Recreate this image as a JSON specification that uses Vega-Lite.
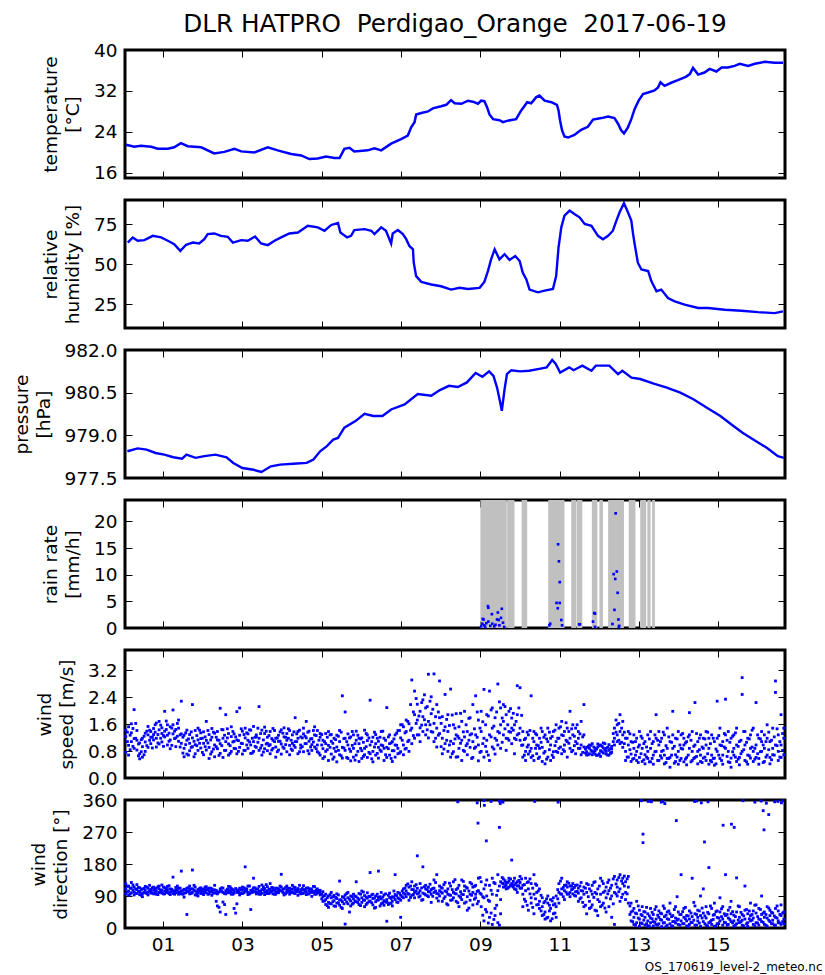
{
"$schema": "https://vega.github.io/schema/vega-lite/v6.json",
"background": "white",
"padding": {"left": 10, "top": 10, "right": 0, "bottom": 0},
"spacing": 22,
"bounds": "flush",
"config": {
 "font": "DejaVu Sans",
 "view": {"stroke": "black", "strokeWidth": 3},
 "axis": {"grid": false, "domain": false, "tickColor": "black", "tickSize": -7, "tickWidth": 1, "labelFontSize": 18.5, "labelColor": "black", "labelFont": "DejaVu Sans", "titleFont": "DejaVu Sans", "titleFontSize": 18.5, "titleFontWeight": "normal", "titleColor": "black", "labelFlush": false, "labelOverlap": false, "titleLineHeight": 22},
 "axisLeft": {"labelPadding": 15, "titlePadding": 11},
 "axisBottom": {"labelPadding": 14}
},
"datasets": {
"temp": [
{"h":0.065,"v":21.5},{"h":0.275,"v":21.1},{"h":0.44,"v":21.3},{"h":0.70,"v":21.1},{"h":0.865,"v":20.7},{"h":1.12,"v":20.7},{"h":1.28,"v":21.0},{"h":1.45,"v":21.8},{"h":1.62,"v":21.2},{"h":1.96,"v":21.0},{"h":2.29,"v":19.8},{"h":2.545,"v":20.1},{"h":2.80,"v":20.7},{"h":2.97,"v":20.2},{"h":3.30,"v":20.0},{"h":3.64,"v":21.0},{"h":3.89,"v":20.4},{"h":4.23,"v":19.7},{"h":4.48,"v":19.4},{"h":4.69,"v":18.7},{"h":4.90,"v":18.8},{"h":5.11,"v":19.2},{"h":5.32,"v":18.9},{"h":5.45,"v":18.9},{"h":5.57,"v":20.7},{"h":5.70,"v":20.9},{"h":5.82,"v":20.2},{"h":6.16,"v":20.4},{"h":6.33,"v":20.8},{"h":6.50,"v":20.4},{"h":6.75,"v":21.7},{"h":7.00,"v":22.6},{"h":7.17,"v":23.3},{"h":7.255,"v":24.9},{"h":7.34,"v":25.9},{"h":7.38,"v":27.4},{"h":7.51,"v":27.7},{"h":7.68,"v":28.0},{"h":7.80,"v":28.6},{"h":8.01,"v":29.0},{"h":8.14,"v":29.3},{"h":8.26,"v":30.2},{"h":8.35,"v":29.6},{"h":8.52,"v":29.5},{"h":8.685,"v":30.1},{"h":8.81,"v":29.9},{"h":8.94,"v":29.5},{"h":9.02,"v":30.1},{"h":9.10,"v":30.0},{"h":9.17,"v":28.8},{"h":9.23,"v":27.4},{"h":9.32,"v":26.5},{"h":9.48,"v":26.3},{"h":9.57,"v":25.9},{"h":9.69,"v":26.2},{"h":9.90,"v":26.5},{"h":10.03,"v":28.2},{"h":10.18,"v":29.8},{"h":10.28,"v":29.6},{"h":10.41,"v":30.8},{"h":10.49,"v":31.1},{"h":10.62,"v":30.1},{"h":10.79,"v":29.8},{"h":10.93,"v":29.3},{"h":10.97,"v":28.2},{"h":11.01,"v":26.2},{"h":11.06,"v":24.3},{"h":11.12,"v":23.1},{"h":11.21,"v":22.9},{"h":11.37,"v":23.4},{"h":11.54,"v":24.4},{"h":11.71,"v":25.0},{"h":11.84,"v":26.4},{"h":12.05,"v":26.7},{"h":12.22,"v":27.0},{"h":12.38,"v":26.7},{"h":12.47,"v":25.6},{"h":12.55,"v":24.3},{"h":12.62,"v":23.7},{"h":12.72,"v":24.9},{"h":12.805,"v":26.5},{"h":12.89,"v":28.5},{"h":12.99,"v":30.1},{"h":13.10,"v":31.4},{"h":13.23,"v":31.7},{"h":13.39,"v":32.1},{"h":13.48,"v":32.7},{"h":13.54,"v":33.7},{"h":13.645,"v":33.0},{"h":13.81,"v":33.6},{"h":13.98,"v":34.1},{"h":14.19,"v":34.8},{"h":14.28,"v":35.3},{"h":14.36,"v":36.5},{"h":14.49,"v":35.2},{"h":14.65,"v":35.6},{"h":14.78,"v":36.3},{"h":14.95,"v":35.8},{"h":15.08,"v":36.6},{"h":15.24,"v":36.6},{"h":15.41,"v":36.9},{"h":15.54,"v":37.3},{"h":15.75,"v":36.9},{"h":15.92,"v":37.3},{"h":16.17,"v":37.7},{"h":16.42,"v":37.5},{"h":16.63,"v":37.5}
],
"rh": [
{"h":0.11,"v":63.4},{"h":0.235,"v":66.6},{"h":0.36,"v":64.5},{"h":0.53,"v":64.9},{"h":0.74,"v":67.6},{"h":0.95,"v":66.6},{"h":1.12,"v":64.5},{"h":1.28,"v":62.4},{"h":1.435,"v":58.2},{"h":1.58,"v":62.0},{"h":1.75,"v":63.4},{"h":1.91,"v":62.8},{"h":2.04,"v":65.5},{"h":2.125,"v":68.7},{"h":2.29,"v":69.1},{"h":2.46,"v":67.6},{"h":2.63,"v":67.0},{"h":2.76,"v":63.4},{"h":2.97,"v":64.9},{"h":3.135,"v":64.5},{"h":3.32,"v":67.2},{"h":3.47,"v":62.8},{"h":3.64,"v":61.8},{"h":3.81,"v":64.5},{"h":3.975,"v":66.6},{"h":4.185,"v":69.1},{"h":4.40,"v":69.7},{"h":4.65,"v":73.9},{"h":4.90,"v":72.9},{"h":5.07,"v":70.8},{"h":5.24,"v":74.4},{"h":5.41,"v":75.6},{"h":5.47,"v":69.7},{"h":5.64,"v":66.6},{"h":5.74,"v":67.6},{"h":5.82,"v":71.2},{"h":6.08,"v":71.8},{"h":6.25,"v":70.8},{"h":6.33,"v":68.7},{"h":6.50,"v":72.9},{"h":6.62,"v":70.8},{"h":6.75,"v":62.8},{"h":6.79,"v":69.1},{"h":6.92,"v":71.2},{"h":7.045,"v":68.7},{"h":7.13,"v":65.5},{"h":7.21,"v":61.3},{"h":7.30,"v":59.2},{"h":7.32,"v":50.8},{"h":7.38,"v":42.4},{"h":7.51,"v":38.8},{"h":7.76,"v":37.2},{"h":8.01,"v":36.1},{"h":8.26,"v":34.0},{"h":8.475,"v":35.1},{"h":8.685,"v":34.4},{"h":8.98,"v":35.1},{"h":9.10,"v":38.8},{"h":9.19,"v":45.6},{"h":9.27,"v":52.9},{"h":9.36,"v":59.2},{"h":9.48,"v":52.9},{"h":9.61,"v":56.1},{"h":9.735,"v":52.5},{"h":9.88,"v":55.0},{"h":9.99,"v":51.9},{"h":10.07,"v":44.5},{"h":10.16,"v":40.3},{"h":10.24,"v":34.0},{"h":10.45,"v":32.3},{"h":10.62,"v":33.4},{"h":10.83,"v":34.4},{"h":10.91,"v":42.4},{"h":10.97,"v":60.3},{"h":11.04,"v":72.9},{"h":11.12,"v":80.2},{"h":11.25,"v":83.4},{"h":11.37,"v":81.3},{"h":11.50,"v":79.2},{"h":11.63,"v":75.0},{"h":11.80,"v":73.9},{"h":11.965,"v":67.6},{"h":12.09,"v":65.5},{"h":12.22,"v":67.6},{"h":12.34,"v":70.8},{"h":12.43,"v":77.1},{"h":12.51,"v":82.3},{"h":12.62,"v":88.0},{"h":12.72,"v":82.3},{"h":12.805,"v":77.1},{"h":12.85,"v":68.7},{"h":12.89,"v":62.4},{"h":12.97,"v":50.8},{"h":13.06,"v":46.6},{"h":13.23,"v":45.6},{"h":13.31,"v":39.3},{"h":13.44,"v":33.0},{"h":13.56,"v":34.0},{"h":13.73,"v":28.7},{"h":13.90,"v":26.7},{"h":14.15,"v":24.6},{"h":14.49,"v":22.5},{"h":14.74,"v":22.5},{"h":15.16,"v":21.4},{"h":15.58,"v":20.8},{"h":16.00,"v":19.9},{"h":16.42,"v":19.3},{"h":16.63,"v":20.4}
],
"pres": [
{"h":0.10,"v":978.44},{"h":0.36,"v":978.54},{"h":0.585,"v":978.50},{"h":0.81,"v":978.38},{"h":1.03,"v":978.32},{"h":1.26,"v":978.23},{"h":1.48,"v":978.18},{"h":1.59,"v":978.32},{"h":1.82,"v":978.21},{"h":2.04,"v":978.27},{"h":2.32,"v":978.32},{"h":2.60,"v":978.23},{"h":2.77,"v":978.03},{"h":3.0,"v":977.85},{"h":3.28,"v":977.79},{"h":3.48,"v":977.71},{"h":3.72,"v":977.91},{"h":3.95,"v":977.97},{"h":4.28,"v":978.0},{"h":4.62,"v":978.03},{"h":4.79,"v":978.15},{"h":4.96,"v":978.44},{"h":5.13,"v":978.62},{"h":5.29,"v":978.85},{"h":5.41,"v":978.91},{"h":5.57,"v":979.27},{"h":5.85,"v":979.50},{"h":6.08,"v":979.76},{"h":6.30,"v":979.68},{"h":6.53,"v":979.68},{"h":6.75,"v":979.91},{"h":7.09,"v":980.09},{"h":7.42,"v":980.45},{"h":7.76,"v":980.39},{"h":7.98,"v":980.59},{"h":8.21,"v":980.74},{"h":8.43,"v":980.70},{"h":8.66,"v":980.86},{"h":8.88,"v":981.19},{"h":9.05,"v":981.06},{"h":9.22,"v":981.25},{"h":9.33,"v":981.09},{"h":9.42,"v":980.68},{"h":9.50,"v":980.15},{"h":9.54,"v":979.86},{"h":9.61,"v":980.62},{"h":9.67,"v":981.15},{"h":9.78,"v":981.29},{"h":10.0,"v":981.25},{"h":10.23,"v":981.27},{"h":10.45,"v":981.33},{"h":10.67,"v":981.39},{"h":10.81,"v":981.65},{"h":10.90,"v":981.51},{"h":11.01,"v":981.21},{"h":11.24,"v":981.39},{"h":11.35,"v":981.29},{"h":11.57,"v":981.45},{"h":11.80,"v":981.27},{"h":11.91,"v":981.45},{"h":12.25,"v":981.45},{"h":12.47,"v":981.15},{"h":12.58,"v":981.27},{"h":12.81,"v":981.03},{"h":13.03,"v":980.98},{"h":13.37,"v":980.82},{"h":13.70,"v":980.68},{"h":14.04,"v":980.50},{"h":14.37,"v":980.27},{"h":14.71,"v":979.97},{"h":15.05,"v":979.68},{"h":15.38,"v":979.33},{"h":15.61,"v":979.09},{"h":15.94,"v":978.80},{"h":16.22,"v":978.56},{"h":16.50,"v":978.27},{"h":16.65,"v":978.21}
],
"rainbars": [
{"a":9.0,"b":9.665},{"a":9.675,"b":9.86},{"a":10.04,"b":10.18},{"a":10.71,"b":11.12},{"a":11.29,"b":11.42},{"a":11.43,"b":11.57},{"a":11.81,"b":11.95},{"a":12.0,"b":12.09},{"a":12.22,"b":12.62},{"a":12.74,"b":12.91},{"a":13.03,"b":13.18},{"a":13.21,"b":13.29},{"a":13.33,"b":13.40}
],
"rain": [
{"h":9.02,"r":0.3},{"h":9.05,"r":0.8},{"h":9.06,"r":1.7},{"h":9.08,"r":1.6},{"h":9.1,"r":0.5},{"h":9.12,"r":0.2},{"h":9.15,"r":0.9},{"h":9.19,"r":4.1},{"h":9.2,"r":3.8},{"h":9.2,"r":1.2},{"h":9.25,"r":0.4},{"h":9.29,"r":2.6},{"h":9.3,"r":0.8},{"h":9.35,"r":0.3},{"h":9.42,"r":1.6},{"h":9.44,"r":2.9},{"h":9.46,"r":1.5},{"h":9.48,"r":0.5},{"h":9.52,"r":1.9},{"h":9.54,"r":3.6},{"h":9.57,"r":1.0},{"h":9.6,"r":0.2},{"h":9.38,"r":0.6},
{"h":10.74,"r":0.5},{"h":10.76,"r":0.8},{"h":10.92,"r":4.7},{"h":10.95,"r":3.7},{"h":10.96,"r":15.7},{"h":10.98,"r":12.5},{"h":11.0,"r":8.6},{"h":11.0,"r":4.7},{"h":11.04,"r":1.5},{"h":11.06,"r":0.5},
{"h":11.49,"r":0.7},{"h":11.51,"r":0.7},
{"h":11.84,"r":1.2},{"h":11.87,"r":2.8},{"h":11.89,"r":2.7},{"h":11.89,"r":0.2},
{"h":12.33,"r":0.75},{"h":12.36,"r":10.1},{"h":12.38,"r":3.4},{"h":12.40,"r":9.2},{"h":12.41,"r":21.5},{"h":12.44,"r":10.6},{"h":12.46,"r":6.6},{"h":12.48,"r":1.6},{"h":12.49,"r":0.2},{"h":12.50,"r":0.4}
],
"wind": [
{"h":0.06,"s1":1.23,"s2":0.76,"s3":1.42,"d1":110,"d2":96,"d3":124},
{"h":0.13,"s1":0.97,"s2":1.52,"s3":0.68,"d1":104,"d2":118,"d3":92},
{"h":0.20,"s1":1.34,"s2":1.08,"s3":1.61,"d1":99,"d2":112,"d3":128},
{"h":0.27,"s1":2.03,"s2":1.17,"s3":0.88,"d1":115,"d2":101,"d3":93},
{"h":0.34,"s1":1.41,"s2":0.83,"s3":1.12,"d1":108,"d2":122,"d3":97},
{"h":0.41,"s1":0.72,"s2":1.04,"s3":0.57,"d1":102,"d2":94,"d3":113},
{"h":0.48,"s1":0.93,"s2":0.62,"s3":1.18,"d1":97,"d2":110,"d3":88},
{"h":0.55,"s1":1.07,"s2":0.79,"s3":1.33,"d1":106,"d2":99,"d3":117},
{"h":0.62,"s1":1.28,"s2":0.91,"s3":1.53,"d1":101,"d2":93,"d3":112},
{"h":0.69,"s1":1.02,"s2":1.38,"s3":1.21,"d1":109,"d2":98,"d3":104},
{"h":0.76,"s1":1.47,"s2":1.13,"s3":1.29,"d1":96,"d2":107,"d3":115},
{"h":0.83,"s1":1.18,"s2":1.63,"s3":0.92,"d1":103,"d2":112,"d3":95},
{"h":0.90,"s1":1.43,"s2":1.01,"s3":1.68,"d1":110,"d2":100,"d3":118},
{"h":0.97,"s1":1.32,"s2":1.49,"s3":1.07,"d1":98,"d2":106,"d3":121},
{"h":1.04,"s1":1.98,"s2":1.22,"s3":1.39,"d1":104,"d2":96,"d3":113},
{"h":1.11,"s1":1.58,"s2":0.98,"s3":1.27,"d1":108,"d2":117,"d3":100},
{"h":1.18,"s1":1.13,"s2":1.52,"s3":0.87,"d1":101,"d2":110,"d3":94},
{"h":1.25,"s1":2.02,"s2":1.31,"s3":1.58,"d1":143,"d2":105,"d3":97},
{"h":1.32,"s1":1.19,"s2":0.93,"s3":1.44,"d1":106,"d2":99,"d3":114},
{"h":1.39,"s1":1.48,"s2":1.09,"s3":1.72,"d1":112,"d2":101,"d3":95},
{"h":1.46,"s1":2.28,"s2":1.03,"s3":1.31,"d1":160,"d2":104,"d3":96},
{"h":1.53,"s1":0.88,"s2":1.27,"s3":0.63,"d1":98,"d2":109,"d3":87},
{"h":1.60,"s1":1.12,"s2":0.71,"s3":1.42,"d1":38,"d2":103,"d3":112},
{"h":1.67,"s1":1.29,"s2":1.03,"s3":0.81,"d1":106,"d2":96,"d3":118},
{"h":1.74,"s1":2.18,"s2":1.19,"s3":0.93,"d1":163,"d2":100,"d3":110},
{"h":1.81,"s1":0.99,"s2":1.41,"s3":0.72,"d1":104,"d2":93,"d3":115},
{"h":1.88,"s1":0.82,"s2":1.13,"s3":1.48,"d1":99,"d2":108,"d3":90},
{"h":1.95,"s1":1.17,"s2":0.89,"s3":1.34,"d1":105,"d2":97,"d3":113},
{"h":2.02,"s1":1.03,"s2":1.37,"s3":0.69,"d1":101,"d2":110,"d3":94},
{"h":2.09,"s1":1.68,"s2":1.12,"s3":0.83,"d1":108,"d2":99,"d3":116},
{"h":2.16,"s1":0.91,"s2":1.29,"s3":0.58,"d1":96,"d2":104,"d3":112},
{"h":2.23,"s1":1.21,"s2":0.78,"s3":1.47,"d1":103,"d2":92,"d3":110},
{"h":2.30,"s1":0.98,"s2":1.33,"s3":0.63,"d1":98,"d2":107,"d3":120},
{"h":2.37,"s1":1.38,"s2":0.87,"s3":1.13,"d1":62,"d2":101,"d3":96},
{"h":2.44,"s1":2.07,"s2":1.02,"s3":0.73,"d1":45,"d2":104,"d3":110},
{"h":2.51,"s1":1.18,"s2":0.61,"s3":1.43,"d1":100,"d2":73,"d3":112},
{"h":2.58,"s1":1.88,"s2":1.08,"s3":0.82,"d1":96,"d2":38,"d3":105},
{"h":2.65,"s1":1.01,"s2":1.32,"s3":0.68,"d1":108,"d2":99,"d3":117},
{"h":2.72,"s1":0.79,"s2":1.23,"s3":1.52,"d1":102,"d2":95,"d3":111},
{"h":2.79,"s1":1.31,"s2":0.88,"s3":1.09,"d1":55,"d2":104,"d3":98},
{"h":2.86,"s1":1.97,"s2":1.13,"s3":0.72,"d1":68,"d2":107,"d3":100},
{"h":2.93,"s1":2.08,"s2":1.27,"s3":0.91,"d1":99,"d2":112,"d3":93},
{"h":3.00,"s1":1.02,"s2":1.39,"s3":0.71,"d1":106,"d2":97,"d3":115},
{"h":3.07,"s1":1.19,"s2":0.82,"s3":1.48,"d1":172,"d2":103,"d3":110},
{"h":3.14,"s1":0.88,"s2":1.31,"s3":1.12,"d1":100,"d2":94,"d3":118},
{"h":3.21,"s1":1.42,"s2":0.98,"s3":0.73,"d1":52,"d2":106,"d3":99},
{"h":3.28,"s1":1.08,"s2":1.53,"s3":0.79,"d1":140,"d2":104,"d3":113},
{"h":3.35,"s1":1.28,"s2":0.91,"s3":1.22,"d1":109,"d2":100,"d3":96},
{"h":3.42,"s1":2.12,"s2":1.18,"s3":0.82,"d1":103,"d2":117,"d3":95},
{"h":3.49,"s1":0.97,"s2":1.42,"s3":0.68,"d1":98,"d2":108,"d3":121},
{"h":3.56,"s1":1.32,"s2":0.87,"s3":1.51,"d1":111,"d2":102,"d3":94},
{"h":3.63,"s1":0.81,"s2":1.21,"s3":1.03,"d1":105,"d2":97,"d3":116},
{"h":3.70,"s1":1.38,"s2":0.99,"s3":0.72,"d1":100,"d2":109,"d3":125},
{"h":3.77,"s1":1.12,"s2":1.47,"s3":0.88,"d1":107,"d2":96,"d3":113},
{"h":3.84,"s1":0.92,"s2":1.18,"s3":0.62,"d1":102,"d2":112,"d3":95},
{"h":3.91,"s1":1.27,"s2":0.83,"s3":1.09,"d1":110,"d2":99,"d3":106},
{"h":3.98,"s1":1.01,"s2":1.43,"s3":0.71,"d1":151,"d2":104,"d3":115},
{"h":4.05,"s1":1.22,"s2":0.88,"s3":1.49,"d1":98,"d2":110,"d3":93},
{"h":4.12,"s1":0.78,"s2":1.12,"s3":1.32,"d1":106,"d2":100,"d3":118},
{"h":4.19,"s1":1.41,"s2":0.97,"s3":0.69,"d1":103,"d2":95,"d3":112},
{"h":4.26,"s1":1.03,"s2":1.28,"s3":0.82,"d1":109,"d2":101,"d3":120},
{"h":4.33,"s1":1.79,"s2":1.08,"s3":0.91,"d1":97,"d2":106,"d3":114},
{"h":4.40,"s1":1.18,"s2":0.72,"s3":1.38,"d1":104,"d2":92,"d3":111},
{"h":4.47,"s1":0.89,"s2":1.22,"s3":0.98,"d1":100,"d2":108,"d3":96},
{"h":4.54,"s1":1.31,"s2":0.78,"s3":1.48,"d1":107,"d2":98,"d3":119},
{"h":4.61,"s1":1.68,"s2":1.02,"s3":1.19,"d1":102,"d2":112,"d3":94},
{"h":4.68,"s1":1.09,"s2":1.39,"s3":0.72,"d1":96,"d2":105,"d3":110},
{"h":4.75,"s1":0.82,"s2":1.17,"s3":0.99,"d1":108,"d2":100,"d3":89},
{"h":4.82,"s1":1.28,"s2":0.92,"s3":1.52,"d1":103,"d2":95,"d3":116},
{"h":4.89,"s1":0.98,"s2":1.41,"s3":0.78,"d1":99,"d2":110,"d3":104},
{"h":4.96,"s1":1.21,"s2":0.68,"s3":1.32,"d1":106,"d2":93,"d3":100},
{"h":5.03,"s1":0.87,"s2":1.12,"s3":0.58,"d1":88,"d2":75,"d3":102},
{"h":5.10,"s1":1.32,"s2":0.79,"s3":1.02,"d1":80,"d2":66,"d3":95},
{"h":5.17,"s1":0.97,"s2":1.38,"s3":0.52,"d1":72,"d2":90,"d3":58},
{"h":5.24,"s1":0.71,"s2":1.09,"s3":1.29,"d1":85,"d2":68,"d3":100},
{"h":5.31,"s1":1.18,"s2":0.62,"s3":0.88,"d1":77,"d2":92,"d3":62},
{"h":5.38,"s1":0.92,"s2":1.27,"s3":0.48,"d1":83,"d2":70,"d3":96},
{"h":5.45,"s1":1.08,"s2":0.69,"s3":1.41,"d1":132,"d2":79,"d3":64},
{"h":5.52,"s1":2.44,"s2":0.91,"s3":0.59,"d1":74,"d2":88,"d3":55},
{"h":5.59,"s1":1.96,"s2":1.18,"s3":0.82,"d1":11,"d2":80,"d3":93},
{"h":5.66,"s1":0.98,"s2":0.58,"s3":1.31,"d1":68,"d2":85,"d3":100},
{"h":5.73,"s1":0.79,"s2":1.22,"s3":0.51,"d1":76,"d2":62,"d3":90},
{"h":5.80,"s1":1.28,"s2":0.88,"s3":0.62,"d1":82,"d2":95,"d3":70},
{"h":5.87,"s1":0.68,"s2":1.12,"s3":1.39,"d1":130,"d2":74,"d3":88},
{"h":5.94,"s1":1.02,"s2":0.49,"s3":1.18,"d1":66,"d2":80,"d3":97},
{"h":6.01,"s1":1.19,"s2":0.81,"s3":0.58,"d1":85,"d2":72,"d3":104},
{"h":6.08,"s1":0.88,"s2":1.42,"s3":0.69,"d1":78,"d2":91,"d3":60},
{"h":6.15,"s1":1.11,"s2":0.61,"s3":1.28,"d1":70,"d2":84,"d3":99},
{"h":6.22,"s1":2.31,"s2":0.98,"s3":0.72,"d1":156,"d2":76,"d3":88},
{"h":6.29,"s1":0.79,"s2":1.21,"s3":0.48,"d1":83,"d2":65,"d3":95},
{"h":6.36,"s1":1.29,"s2":0.68,"s3":1.02,"d1":74,"d2":90,"d3":58},
{"h":6.43,"s1":0.59,"s2":1.09,"s3":0.91,"d1":160,"d2":79,"d3":86},
{"h":6.50,"s1":0.98,"s2":0.79,"s3":1.38,"d1":68,"d2":82,"d3":100},
{"h":6.57,"s1":1.18,"s2":0.52,"s3":0.88,"d1":77,"d2":93,"d3":64},
{"h":6.64,"s1":2.09,"s2":0.91,"s3":0.61,"d1":19,"d2":80,"d3":72},
{"h":6.71,"s1":1.02,"s2":1.28,"s3":0.68,"d1":86,"d2":70,"d3":98},
{"h":6.78,"s1":0.81,"s2":1.08,"s3":0.49,"d1":75,"d2":88,"d3":62},
{"h":6.85,"s1":1.28,"s2":0.62,"s3":0.98,"d1":150,"d2":80,"d3":94},
{"h":6.92,"s1":0.88,"s2":1.41,"s3":0.72,"d1":84,"d2":72,"d3":100},
{"h":6.99,"s1":1.19,"s2":0.78,"s3":1.58,"d1":30,"d2":92,"d3":78},
{"h":7.06,"s1":0.98,"s2":1.52,"s3":0.69,"d1":98,"d2":110,"d3":85},
{"h":7.13,"s1":1.38,"s2":0.88,"s3":1.72,"d1":104,"d2":88,"d3":120},
{"h":7.20,"s1":1.12,"s2":1.61,"s3":0.79,"d1":95,"d2":115,"d3":78},
{"h":7.27,"s1":2.91,"s2":1.48,"s3":1.02,"d1":108,"d2":92,"d3":130},
{"h":7.34,"s1":2.58,"s2":1.88,"s3":1.18,"d1":100,"d2":118,"d3":85},
{"h":7.41,"s1":1.72,"s2":1.28,"s3":2.19,"d1":203,"d2":96,"d3":112},
{"h":7.48,"s1":1.49,"s2":1.98,"s3":1.08,"d1":90,"d2":105,"d3":125},
{"h":7.55,"s1":1.82,"s2":1.38,"s3":2.32,"d1":172,"d2":98,"d3":80},
{"h":7.62,"s1":1.28,"s2":2.08,"s3":1.58,"d1":110,"d2":93,"d3":120},
{"h":7.69,"s1":3.08,"s2":1.68,"s3":1.19,"d1":102,"d2":88,"d3":115},
{"h":7.76,"s1":1.91,"s2":1.38,"s3":2.41,"d1":95,"d2":108,"d3":72},
{"h":7.83,"s1":3.09,"s2":1.62,"s3":1.08,"d1":112,"d2":100,"d3":135},
{"h":7.90,"s1":1.48,"s2":2.18,"s3":0.92,"d1":150,"d2":97,"d3":84},
{"h":7.97,"s1":2.88,"s2":1.32,"s3":1.79,"d1":105,"d2":90,"d3":118},
{"h":8.04,"s1":1.18,"s2":1.82,"s3":0.72,"d1":98,"d2":112,"d3":75},
{"h":8.11,"s1":2.48,"s2":1.02,"s3":1.52,"d1":88,"d2":104,"d3":128},
{"h":8.18,"s1":1.38,"s2":0.79,"s3":1.88,"d1":110,"d2":65,"d3":95},
{"h":8.25,"s1":2.64,"s2":1.09,"s3":0.62,"d1":92,"d2":118,"d3":78},
{"h":8.32,"s1":1.02,"s2":1.58,"s3":0.78,"d1":100,"d2":85,"d3":130},
{"h":8.39,"s1":1.28,"s2":0.62,"s3":1.91,"d1":75,"d2":108,"d3":96},
{"h":8.46,"s1":0.88,"s2":1.52,"s3":1.18,"d1":120,"d2":90,"d3":60},
{"h":8.53,"s1":1.68,"s2":1.12,"s3":0.52,"d1":95,"d2":135,"d3":80},
{"h":8.60,"s1":1.22,"s2":1.98,"s3":0.79,"d1":105,"d2":70,"d3":118},
{"h":8.67,"s1":0.69,"s2":1.38,"s3":1.02,"d1":88,"d2":112,"d3":50},
{"h":8.74,"s1":1.79,"s2":0.91,"s3":1.28,"d1":128,"d2":95,"d3":78},
{"h":8.81,"s1":1.08,"s2":2.18,"s3":0.61,"d1":100,"d2":65,"d3":115},
{"h":8.88,"s1":2.44,"s2":1.28,"s3":0.92,"d1":85,"d2":120,"d3":95},
{"h":8.95,"s1":0.98,"s2":1.72,"s3":0.51,"d1":140,"d2":75,"d3":105},
{"h":9.02,"s1":1.38,"s2":0.79,"s3":1.98,"d1":95,"d2":60,"d3":130},
{"h":9.09,"s1":2.63,"s2":1.18,"s3":0.62,"d1":20,"d2":110,"d3":85},
{"h":9.16,"s1":1.12,"s2":1.88,"s3":0.78,"d1":45,"d2":90,"d3":135},
{"h":9.23,"s1":2.58,"s2":1.28,"s3":0.52,"d1":120,"d2":30,"d3":75},
{"h":9.30,"s1":1.48,"s2":0.92,"s3":2.08,"d1":10,"d2":95,"d3":140},
{"h":9.37,"s1":1.18,"s2":1.79,"s3":0.71,"d1":55,"d2":125,"d3":35},
{"h":9.44,"s1":2.79,"s2":1.38,"s3":0.98,"d1":105,"d2":15,"d3":150},
{"h":9.51,"s1":1.58,"s2":2.08,"s3":0.88,"d1":130,"d2":80,"d3":40},
{"h":9.58,"s1":1.28,"s2":1.68,"s3":2.18,"d1":115,"d2":138,"d3":125},
{"h":9.65,"s1":1.88,"s2":1.18,"s3":0.82,"d1":120,"d2":128,"d3":110},
{"h":9.72,"s1":1.38,"s2":1.98,"s3":1.12,"d1":132,"d2":115,"d3":140},
{"h":9.79,"s1":1.78,"s2":1.02,"s3":1.48,"d1":125,"d2":191,"d3":118},
{"h":9.86,"s1":1.18,"s2":1.58,"s3":0.72,"d1":140,"d2":122,"d3":110},
{"h":9.93,"s1":2.74,"s2":1.28,"s3":1.88,"d1":118,"d2":130,"d3":100},
{"h":10.00,"s1":2.68,"s2":1.12,"s3":1.48,"d1":128,"d2":112,"d3":145},
{"h":10.07,"s1":0.98,"s2":1.38,"s3":0.62,"d1":95,"d2":120,"d3":60},
{"h":10.14,"s1":0.79,"s2":1.18,"s3":0.52,"d1":140,"d2":75,"d3":105},
{"h":10.21,"s1":1.28,"s2":0.71,"s3":0.98,"d1":110,"d2":50,"d3":130},
{"h":10.28,"s1":2.44,"s2":0.88,"s3":0.61,"d1":85,"d2":125,"d3":70},
{"h":10.35,"s1":1.08,"s2":0.52,"s3":1.38,"d1":150,"d2":95,"d3":40},
{"h":10.42,"s1":0.72,"s2":0.98,"s3":1.28,"d1":100,"d2":65,"d3":120},
{"h":10.49,"s1":1.18,"s2":0.62,"s3":0.88,"d1":75,"d2":110,"d3":55},
{"h":10.56,"s1":0.91,"s2":1.38,"s3":0.49,"d1":60,"d2":35,"d3":85},
{"h":10.63,"s1":1.28,"s2":0.79,"s3":0.42,"d1":45,"d2":75,"d3":25},
{"h":10.70,"s1":0.62,"s2":1.08,"s3":1.48,"d1":70,"d2":30,"d3":90},
{"h":10.77,"s1":0.98,"s2":0.52,"s3":1.18,"d1":55,"d2":80,"d3":20},
{"h":10.84,"s1":1.38,"s2":0.78,"s3":0.61,"d1":85,"d2":40,"d3":65},
{"h":10.91,"s1":1.58,"s2":1.08,"s3":0.79,"d1":30,"d2":90,"d3":60},
{"h":10.98,"s1":0.88,"s2":1.48,"s3":1.18,"d1":125,"d2":70,"d3":100},
{"h":11.05,"s1":1.28,"s2":0.72,"s3":1.68,"d1":95,"d2":140,"d3":110},
{"h":11.12,"s1":0.98,"s2":1.38,"s3":0.79,"d1":105,"d2":80,"d3":120},
{"h":11.19,"s1":1.48,"s2":1.08,"s3":0.62,"d1":115,"d2":95,"d3":130},
{"h":11.26,"s1":1.98,"s2":1.18,"s3":0.88,"d1":100,"d2":118,"d3":88},
{"h":11.33,"s1":1.28,"s2":0.82,"s3":1.58,"d1":110,"d2":96,"d3":125},
{"h":11.40,"s1":1.08,"s2":1.48,"s3":0.72,"d1":120,"d2":102,"d3":90},
{"h":11.47,"s1":1.38,"s2":0.88,"s3":1.18,"d1":98,"d2":112,"d3":75},
{"h":11.54,"s1":1.68,"s2":0.98,"s3":0.69,"d1":85,"d2":105,"d3":128},
{"h":11.61,"s1":2.18,"s2":0.92,"s3":1.28,"d1":60,"d2":95,"d3":115},
{"h":11.68,"s1":0.78,"s2":0.91,"s3":0.68,"d1":100,"d2":40,"d3":125},
{"h":11.75,"s1":0.88,"s2":0.72,"s3":0.98,"d1":75,"d2":110,"d3":55},
{"h":11.82,"s1":0.79,"s2":1.02,"s3":0.69,"d1":120,"d2":65,"d3":95},
{"h":11.89,"s1":0.71,"s2":0.88,"s3":0.81,"d1":50,"d2":100,"d3":130},
{"h":11.96,"s1":0.92,"s2":0.68,"s3":1.01,"d1":110,"d2":80,"d3":35},
{"h":12.03,"s1":0.81,"s2":0.98,"s3":0.64,"d1":95,"d2":140,"d3":60},
{"h":12.10,"s1":0.74,"s2":0.89,"s3":1.04,"d1":125,"d2":70,"d3":100},
{"h":12.17,"s1":0.88,"s2":0.71,"s3":0.79,"d1":85,"d2":45,"d3":115},
{"h":12.24,"s1":0.82,"s2":0.99,"s3":0.68,"d1":60,"d2":105,"d3":135},
{"h":12.31,"s1":0.94,"s2":0.76,"s3":0.86,"d1":120,"d2":30,"d3":90},
{"h":12.38,"s1":1.18,"s2":1.48,"s3":0.98,"d1":10,"d2":100,"d3":145},
{"h":12.45,"s1":1.58,"s2":1.08,"s3":1.28,"d1":135,"d2":90,"d3":115},
{"h":12.52,"s1":1.88,"s2":1.38,"s3":1.02,"d1":110,"d2":150,"d3":75},
{"h":12.59,"s1":1.28,"s2":1.68,"s3":0.91,"d1":125,"d2":95,"d3":140},
{"h":12.66,"s1":0.79,"s2":1.18,"s3":0.52,"d1":130,"d2":100,"d3":80},
{"h":12.73,"s1":0.98,"s2":0.62,"s3":1.38,"d1":145,"d2":70,"d3":115},
{"h":12.80,"s1":0.71,"s2":1.08,"s3":0.49,"d1":45,"d2":20,"d3":70},
{"h":12.87,"s1":0.88,"s2":1.28,"s3":0.58,"d1":30,"d2":10,"d3":55},
{"h":12.94,"s1":1.18,"s2":0.52,"s3":0.79,"d1":15,"d2":40,"d3":75},
{"h":13.01,"s1":0.61,"s2":0.98,"s3":1.38,"d1":25,"d2":5,"d3":50},
{"h":13.08,"s1":0.88,"s2":0.49,"s3":1.18,"d1":35,"d2":12,"d3":60},
{"h":13.15,"s1":1.08,"s2":0.69,"s3":0.42,"d1":8,"d2":30,"d3":45},
{"h":13.22,"s1":0.79,"s2":1.28,"s3":0.58,"d1":20,"d2":40,"d3":5},
{"h":13.29,"s1":1.38,"s2":0.88,"s3":0.48,"d1":15,"d2":55,"d3":28},
{"h":13.36,"s1":0.68,"s2":1.08,"s3":0.41,"d1":38,"d2":6,"d3":18},
{"h":13.43,"s1":1.88,"s2":0.79,"s3":1.18,"d1":10,"d2":25,"d3":60},
{"h":13.50,"s1":0.98,"s2":0.52,"s3":1.38,"d1":30,"d2":48,"d3":12},
{"h":13.57,"s1":0.59,"s2":1.18,"s3":0.79,"d1":22,"d2":4,"d3":40},
{"h":13.64,"s1":1.28,"s2":0.68,"s3":0.42,"d1":55,"d2":15,"d3":32},
{"h":13.71,"s1":0.88,"s2":1.48,"s3":0.58,"d1":8,"d2":26,"d3":45},
{"h":13.78,"s1":1.08,"s2":0.61,"s3":0.32,"d1":40,"d2":12,"d3":70},
{"h":13.85,"s1":1.98,"s2":0.88,"s3":1.28,"d1":18,"d2":35,"d3":5},
{"h":13.92,"s1":0.69,"s2":1.18,"s3":0.49,"d1":28,"d2":60,"d3":14},
{"h":13.99,"s1":1.38,"s2":0.79,"s3":0.41,"d1":45,"d2":10,"d3":25},
{"h":14.06,"s1":0.88,"s2":1.28,"s3":0.58,"d1":150,"d2":20,"d3":38},
{"h":14.13,"s1":1.18,"s2":0.48,"s3":0.98,"d1":12,"d2":30,"d3":55},
{"h":14.20,"s1":0.61,"s2":1.08,"s3":0.39,"d1":35,"d2":6,"d3":20},
{"h":14.27,"s1":1.94,"s2":0.88,"s3":1.28,"d1":25,"d2":48,"d3":10},
{"h":14.34,"s1":0.79,"s2":1.38,"s3":0.52,"d1":140,"d2":15,"d3":32},
{"h":14.41,"s1":2.24,"s2":0.98,"s3":0.61,"d1":8,"d2":40,"d3":62},
{"h":14.48,"s1":1.08,"s2":0.42,"s3":0.79,"d1":30,"d2":20,"d3":50},
{"h":14.55,"s1":0.68,"s2":1.28,"s3":0.49,"d1":90,"d2":5,"d3":35},
{"h":14.62,"s1":1.18,"s2":0.59,"s3":0.88,"d1":18,"d2":42,"d3":110},
{"h":14.69,"s1":0.52,"s2":0.98,"s3":1.38,"d1":60,"d2":28,"d3":8},
{"h":14.76,"s1":0.88,"s2":0.41,"s3":1.18,"d1":170,"d2":15,"d3":40},
{"h":14.83,"s1":1.28,"s2":0.68,"s3":0.48,"d1":22,"d2":55,"d3":10},
{"h":14.90,"s1":0.59,"s2":1.08,"s3":0.38,"d1":38,"d2":5,"d3":70},
{"h":14.97,"s1":2.28,"s2":0.79,"s3":1.18,"d1":12,"d2":30,"d3":48},
{"h":15.04,"s1":0.98,"s2":1.48,"s3":0.58,"d1":45,"d2":20,"d3":85},
{"h":15.11,"s1":0.68,"s2":0.41,"s3":1.08,"d1":25,"d2":60,"d3":8},
{"h":15.18,"s1":2.34,"s2":0.88,"s3":1.28,"d1":150,"d2":35,"d3":15},
{"h":15.25,"s1":0.79,"s2":1.38,"s3":0.48,"d1":10,"d2":28,"d3":50},
{"h":15.32,"s1":1.18,"s2":0.59,"s3":0.32,"d1":40,"d2":75,"d3":18},
{"h":15.39,"s1":0.88,"s2":1.28,"s3":0.68,"d1":20,"d2":5,"d3":36},
{"h":15.46,"s1":0.49,"s2":0.98,"s3":1.48,"d1":141,"d2":45,"d3":12},
{"h":15.53,"s1":1.08,"s2":0.61,"s3":0.39,"d1":30,"d2":15,"d3":60},
{"h":15.60,"s1":2.98,"s2":2.48,"s3":0.79,"d1":8,"d2":38,"d3":22},
{"h":15.67,"s1":0.98,"s2":1.38,"s3":0.52,"d1":50,"d2":25,"d3":118},
{"h":15.74,"s1":0.68,"s2":1.18,"s3":0.41,"d1":15,"d2":40,"d3":5},
{"h":15.81,"s1":1.28,"s2":0.59,"s3":0.88,"d1":35,"d2":70,"d3":20},
{"h":15.88,"s1":0.79,"s2":1.48,"s3":0.49,"d1":10,"d2":28,"d3":48},
{"h":15.95,"s1":2.24,"s2":0.98,"s3":0.61,"d1":42,"d2":15,"d3":65},
{"h":16.02,"s1":0.58,"s2":1.18,"s3":0.41,"d1":25,"d2":55,"d3":8},
{"h":16.09,"s1":1.38,"s2":0.79,"s3":1.08,"d1":18,"d2":38,"d3":90},
{"h":16.16,"s1":0.88,"s2":0.49,"s3":1.28,"d1":45,"d2":10,"d3":30},
{"h":16.23,"s1":1.18,"s2":0.68,"s3":1.58,"d1":5,"d2":28,"d3":60},
{"h":16.30,"s1":0.61,"s2":1.08,"s3":0.42,"d1":35,"d2":18,"d3":50},
{"h":16.37,"s1":1.48,"s2":0.88,"s3":0.69,"d1":12,"d2":42,"d3":22},
{"h":16.44,"s1":2.88,"s2":2.54,"s3":0.98,"d1":30,"d2":8,"d3":55},
{"h":16.51,"s1":0.79,"s2":1.28,"s3":0.52,"d1":48,"d2":20,"d3":15},
{"h":16.58,"s1":1.88,"s2":0.98,"s3":0.61,"d1":10,"d2":35,"d3":65},
{"h":16.65,"s1":1.18,"s2":0.69,"s3":1.48,"d1":25,"d2":45,"d3":12}
],
"wind2": [
{"h":0.10,"s1":1.08,"s2":1.36,"d1":101,"d2":117},{"h":0.17,"s1":1.27,"s2":0.84,"d1":112,"d2":95},{"h":0.24,"s1":0.94,"s2":1.47,"d1":106,"d2":121},{"h":0.31,"s1":1.18,"s2":1.62,"d1":98,"d2":110},{"h":0.38,"s1":0.66,"s2":1.01,"d1":114,"d2":103},{"h":0.45,"s1":0.78,"s2":1.14,"d1":92,"d2":107},{"h":0.52,"s1":1.24,"s2":0.69,"d1":111,"d2":100},{"h":0.59,"s1":0.96,"s2":1.39,"d1":97,"d2":115},{"h":0.66,"s1":1.42,"s2":1.12,"d1":105,"d2":120},{"h":0.73,"s1":1.21,"s2":0.89,"d1":113,"d2":99},{"h":0.80,"s1":1.36,"s2":1.58,"d1":102,"d2":109},{"h":0.87,"s1":1.04,"s2":1.29,"d1":94,"d2":116},{"h":0.94,"s1":1.57,"s2":1.18,"d1":107,"d2":101},{"h":1.01,"s1":1.26,"s2":0.94,"d1":115,"d2":96},{"h":1.08,"s1":1.44,"s2":1.69,"d1":100,"d2":111},{"h":1.15,"s1":1.09,"s2":1.33,"d1":97,"d2":119},{"h":1.22,"s1":1.48,"s2":0.97,"d1":109,"d2":104},{"h":1.29,"s1":1.17,"s2":1.39,"d1":103,"d2":95},{"h":1.36,"s1":1.62,"s2":1.24,"d1":118,"d2":107},{"h":1.43,"s1":0.92,"s2":1.28,"d1":101,"d2":112},{"h":1.50,"s1":1.21,"s2":0.74,"d1":95,"d2":106},{"h":1.57,"s1":0.99,"s2":1.34,"d1":108,"d2":99},{"h":1.64,"s1":0.68,"s2":1.16,"d1":113,"d2":102},{"h":1.71,"s1":1.37,"s2":0.91,"d1":97,"d2":110},{"h":1.78,"s1":1.09,"s2":0.63,"d1":106,"d2":120},{"h":1.85,"s1":1.26,"s2":0.96,"d1":100,"d2":93},{"h":1.92,"s1":1.42,"s2":1.03,"d1":111,"d2":104},{"h":1.99,"s1":0.76,"s2":1.18,"d1":98,"d2":108},
{"h":2.06,"s1":1.22,"s2":0.93,"d1":104,"d2":115},{"h":2.13,"s1":1.04,"s2":1.41,"d1":95,"d2":109},{"h":2.20,"s1":0.71,"s2":1.13,"d1":112,"d2":101},{"h":2.27,"s1":1.36,"s2":0.86,"d1":99,"d2":107},{"h":2.34,"s1":0.93,"s2":1.21,"d1":106,"d2":75},{"h":2.41,"s1":1.12,"s2":0.67,"d1":58,"d2":101},{"h":2.48,"s1":1.44,"s2":0.96,"d1":103,"d2":113},{"h":2.55,"s1":0.82,"s2":1.27,"d1":97,"d2":66},{"h":2.62,"s1":1.19,"s2":1.46,"d1":109,"d2":100},{"h":2.69,"s1":0.96,"s2":0.73,"d1":104,"d2":116},{"h":2.76,"s1":1.38,"s2":1.07,"d1":95,"d2":108},{"h":2.83,"s1":0.87,"s2":1.22,"d1":111,"d2":42},{"h":2.90,"s1":1.11,"s2":0.79,"d1":101,"d2":106},{"h":2.97,"s1":1.46,"s2":1.03,"d1":108,"d2":97},{"h":3.04,"s1":0.82,"s2":1.29,"d1":99,"d2":113},{"h":3.11,"s1":1.34,"s2":0.98,"d1":110,"d2":104},{"h":3.18,"s1":1.07,"s2":1.43,"d1":96,"d2":118},{"h":3.25,"s1":0.74,"s2":1.18,"d1":107,"d2":100},{"h":3.32,"s1":1.21,"s2":0.94,"d1":113,"d2":102},{"h":3.39,"s1":1.48,"s2":1.06,"d1":99,"d2":110},{"h":3.46,"s1":0.89,"s2":1.32,"d1":104,"d2":95},{"h":3.53,"s1":1.13,"s2":0.77,"d1":116,"d2":108},{"h":3.60,"s1":1.39,"s2":1.01,"d1":101,"d2":122},{"h":3.67,"s1":0.96,"s2":1.26,"d1":109,"d2":97},{"h":3.74,"s1":1.17,"s2":0.83,"d1":103,"d2":114},{"h":3.81,"s1":1.41,"s2":1.08,"d1":95,"d2":106},{"h":3.88,"s1":0.78,"s2":1.19,"d1":112,"d2":101},{"h":3.95,"s1":1.09,"s2":1.37,"d1":106,"d2":118},
{"h":4.02,"s1":1.33,"s2":0.92,"d1":100,"d2":109},{"h":4.09,"s1":0.99,"s2":1.21,"d1":114,"d2":96},{"h":4.16,"s1":1.18,"s2":1.46,"d1":103,"d2":111},{"h":4.23,"s1":0.86,"s2":1.12,"d1":109,"d2":99},{"h":4.30,"s1":1.37,"s2":0.97,"d1":98,"d2":115},{"h":4.37,"s1":1.08,"s2":1.31,"d1":107,"d2":102},{"h":4.44,"s1":1.42,"s2":0.78,"d1":101,"d2":120},{"h":4.51,"s1":0.93,"s2":1.19,"d1":111,"d2":97},{"h":4.58,"s1":1.24,"s2":1.02,"d1":104,"d2":108},{"h":4.65,"s1":0.81,"s2":1.36,"d1":96,"d2":113},{"h":4.72,"s1":1.16,"s2":0.92,"d1":110,"d2":101},{"h":4.79,"s1":1.41,"s2":1.07,"d1":102,"d2":117},{"h":4.86,"s1":0.87,"s2":1.26,"d1":107,"d2":95},{"h":4.93,"s1":1.12,"s2":0.74,"d1":99,"d2":104},{"h":5.00,"s1":0.98,"s2":1.29,"d1":95,"d2":82},{"h":5.07,"s1":0.63,"s2":1.08,"d1":76,"d2":91},{"h":5.14,"s1":1.21,"s2":0.84,"d1":85,"d2":63},{"h":5.21,"s1":0.91,"s2":1.28,"d1":69,"d2":94},{"h":5.28,"s1":0.56,"s2":1.03,"d1":88,"d2":74},{"h":5.35,"s1":1.14,"s2":0.79,"d1":61,"d2":86},{"h":5.42,"s1":0.82,"s2":1.24,"d1":93,"d2":71},{"h":5.49,"s1":1.36,"s2":0.66,"d1":79,"d2":58},{"h":5.56,"s1":0.89,"s2":1.17,"d1":86,"d2":68},{"h":5.63,"s1":0.61,"s2":1.08,"d1":73,"d2":97},{"h":5.70,"s1":1.19,"s2":0.86,"d1":81,"d2":45},{"h":5.77,"s1":0.97,"s2":1.38,"d1":67,"d2":88},{"h":5.84,"s1":0.53,"s2":1.02,"d1":90,"d2":76},{"h":5.91,"s1":1.27,"s2":0.79,"d1":72,"d2":84},{"h":5.98,"s1":0.88,"s2":1.16,"d1":95,"d2":63},
{"h":6.05,"s1":0.64,"s2":1.06,"d1":79,"d2":101},{"h":6.12,"s1":1.32,"s2":0.93,"d1":66,"d2":87},{"h":6.19,"s1":0.76,"s2":1.19,"d1":89,"d2":74},{"h":6.26,"s1":1.08,"s2":0.57,"d1":71,"d2":93},{"h":6.33,"s1":0.92,"s2":1.36,"d1":84,"d2":56},{"h":6.40,"s1":1.18,"s2":0.73,"d1":95,"d2":78},{"h":6.47,"s1":0.83,"s2":1.21,"d1":62,"d2":88},{"h":6.54,"s1":1.39,"s2":0.96,"d1":87,"d2":71},{"h":6.61,"s1":0.69,"s2":1.12,"d1":74,"d2":96},{"h":6.68,"s1":1.22,"s2":0.87,"d1":92,"d2":66},{"h":6.75,"s1":0.58,"s2":1.04,"d1":69,"d2":83},{"h":6.82,"s1":1.16,"s2":0.81,"d1":86,"d2":104},{"h":6.89,"s1":0.97,"s2":1.33,"d1":73,"d2":91},{"h":6.96,"s1":1.41,"s2":0.74,"d1":98,"d2":82},{"h":7.03,"s1":1.12,"s2":1.58,"d1":88,"d2":104},{"h":7.10,"s1":0.86,"s2":1.34,"d1":112,"d2":95},{"h":7.17,"s1":1.68,"s2":1.08,"d1":97,"d2":124},{"h":7.24,"s1":1.42,"s2":2.18,"d1":118,"d2":86},{"h":7.31,"s1":1.96,"s2":1.26,"d1":94,"d2":108},{"h":7.38,"s1":2.36,"s2":1.62,"d1":104,"d2":122},{"h":7.45,"s1":1.28,"s2":1.84,"d1":87,"d2":99},{"h":7.52,"s1":2.24,"s2":1.57,"d1":113,"d2":78},{"h":7.59,"s1":1.73,"s2":2.47,"d1":96,"d2":116},{"h":7.66,"s1":2.12,"s2":1.43,"d1":108,"d2":91},{"h":7.73,"s1":1.58,"s2":2.28,"d1":123,"d2":102},{"h":7.80,"s1":2.04,"s2":1.36,"d1":89,"d2":111},{"h":7.87,"s1":1.82,"s2":1.18,"d1":104,"d2":128},{"h":7.94,"s1":1.27,"s2":1.96,"d1":96,"d2":76},
{"h":8.01,"s1":1.62,"s2":0.93,"d1":114,"d2":101},{"h":8.08,"s1":0.86,"s2":1.41,"d1":83,"d2":122},{"h":8.15,"s1":1.74,"s2":1.12,"d1":102,"d2":68},{"h":8.22,"s1":0.98,"s2":1.56,"d1":126,"d2":93},{"h":8.29,"s1":1.87,"s2":0.72,"d1":79,"d2":108},{"h":8.36,"s1":1.16,"s2":1.48,"d1":97,"d2":136},{"h":8.43,"s1":0.63,"s2":1.24,"d1":112,"d2":71},{"h":8.50,"s1":1.92,"s2":1.03,"d1":86,"d2":102},{"h":8.57,"s1":0.82,"s2":1.37,"d1":131,"d2":94},{"h":8.64,"s1":1.58,"s2":0.96,"d1":73,"d2":115},{"h":8.71,"s1":1.12,"s2":1.77,"d1":104,"d2":56},{"h":8.78,"s1":0.58,"s2":1.31,"d1":92,"d2":124},{"h":8.85,"s1":1.46,"s2":0.88,"d1":117,"d2":81},{"h":8.92,"s1":1.96,"s2":1.21,"d1":68,"d2":103},{"h":8.99,"s1":0.76,"s2":1.48,"d1":98,"d2":142},{"h":9.06,"s1":1.67,"s2":1.02,"d1":36,"d2":88},{"h":9.13,"s1":0.94,"s2":1.58,"d1":121,"d2":52},{"h":9.20,"s1":1.84,"s2":0.68,"d1":78,"d2":14},{"h":9.27,"s1":1.22,"s2":2.02,"d1":42,"d2":106},{"h":9.34,"s1":0.86,"s2":1.54,"d1":128,"d2":24},{"h":9.41,"s1":1.96,"s2":1.12,"d1":64,"d2":92},{"h":9.48,"s1":1.34,"s2":2.26,"d1":8,"d2":118},{"h":9.55,"s1":1.78,"s2":1.06,"d1":126,"d2":142},{"h":9.62,"s1":2.12,"s2":1.46,"d1":133,"d2":117},{"h":9.69,"s1":1.58,"s2":1.17,"d1":112,"d2":128},{"h":9.76,"s1":2.06,"s2":1.36,"d1":138,"d2":121},{"h":9.83,"s1":1.42,"s2":1.92,"d1":115,"d2":131},{"h":9.90,"s1":1.68,"s2":1.14,"d1":126,"d2":108},{"h":9.97,"s1":1.32,"s2":2.08,"d1":134,"d2":119},
{"h":10.04,"s1":1.86,"s2":0.97,"d1":112,"d2":138},{"h":10.11,"s1":1.14,"s2":0.68,"d1":81,"d2":122},{"h":10.18,"s1":0.92,"s2":1.36,"d1":128,"d2":64},{"h":10.25,"s1":1.41,"s2":0.79,"d1":96,"d2":138},{"h":10.32,"s1":0.66,"s2":1.18,"d1":58,"d2":112},{"h":10.39,"s1":1.32,"s2":0.88,"d1":124,"d2":82},{"h":10.46,"s1":0.96,"s2":0.58,"d1":66,"d2":104},{"h":10.53,"s1":1.48,"s2":1.06,"d1":92,"d2":48},{"h":10.60,"s1":0.74,"s2":1.21,"d1":38,"d2":71},{"h":10.67,"s1":1.16,"s2":0.56,"d1":82,"d2":28},{"h":10.74,"s1":0.84,"s2":1.36,"d1":48,"d2":64},{"h":10.81,"s1":1.23,"s2":0.68,"d1":26,"d2":76},{"h":10.88,"s1":0.96,"s2":1.42,"d1":68,"d2":42},{"h":10.95,"s1":1.18,"s2":0.76,"d1":108,"d2":82},{"h":11.02,"s1":1.52,"s2":0.92,"d1":132,"d2":96},{"h":11.09,"s1":0.84,"s2":1.26,"d1":88,"d2":114},{"h":11.16,"s1":1.64,"s2":1.12,"d1":121,"d2":101},{"h":11.23,"s1":1.03,"s2":1.38,"d1":96,"d2":126},{"h":11.30,"s1":1.46,"s2":0.78,"d1":108,"d2":118},{"h":11.37,"s1":0.96,"s2":1.24,"d1":114,"d2":92},{"h":11.44,"s1":1.58,"s2":1.02,"d1":103,"d2":121},{"h":11.51,"s1":0.88,"s2":1.31,"d1":118,"d2":82},{"h":11.58,"s1":1.22,"s2":0.76,"d1":72,"d2":104},{"h":11.65,"s1":0.86,"s2":0.74,"d1":112,"d2":64},{"h":11.72,"s1":0.69,"s2":0.94,"d1":88,"d2":122},{"h":11.79,"s1":0.97,"s2":0.82,"d1":58,"d2":104},{"h":11.86,"s1":0.76,"s2":0.92,"d1":128,"d2":86},{"h":11.93,"s1":0.86,"s2":0.67,"d1":96,"d2":48},
{"h":12.00,"s1":0.72,"s2":0.96,"d1":118,"d2":74},{"h":12.07,"s1":0.94,"s2":0.78,"d1":64,"d2":132},{"h":12.14,"s1":0.83,"s2":1.02,"d1":104,"d2":56},{"h":12.21,"s1":0.68,"s2":0.91,"d1":128,"d2":96},{"h":12.28,"s1":0.87,"s2":0.73,"d1":82,"d2":112},{"h":12.35,"s1":1.08,"s2":1.32,"d1":138,"d2":68},{"h":12.42,"s1":1.36,"s2":1.72,"d1":96,"d2":124},{"h":12.49,"s1":1.12,"s2":1.62,"d1":142,"d2":102},{"h":12.56,"s1":1.48,"s2":1.06,"d1":86,"d2":132},{"h":12.63,"s1":1.02,"s2":1.36,"d1":118,"d2":146},{"h":12.70,"s1":0.62,"s2":1.18,"d1":96,"d2":138},{"h":12.77,"s1":0.84,"s2":1.31,"d1":62,"d2":38},{"h":12.84,"s1":1.06,"s2":0.56,"d1":18,"d2":48},{"h":12.91,"s1":0.68,"s2":1.08,"d1":42,"d2":8},{"h":12.98,"s1":0.92,"s2":0.46,"d1":28,"d2":62},{"h":13.05,"s1":1.24,"s2":0.72,"d1":14,"d2":38},{"h":13.12,"s1":0.54,"s2":1.02,"d1":46,"d2":22},{"h":13.19,"s1":0.92,"s2":0.62,"d1":12,"d2":58},{"h":13.26,"s1":0.48,"s2":1.16,"d1":34,"d2":6},{"h":13.33,"s1":1.02,"s2":0.58,"d1":26,"d2":44},{"h":13.40,"s1":0.78,"s2":1.28,"d1":52,"d2":16},{"h":13.47,"s1":0.52,"s2":1.12,"d1":8,"d2":36},{"h":13.54,"s1":1.08,"s2":0.66,"d1":42,"d2":24},{"h":13.61,"s1":0.82,"s2":1.36,"d1":14,"d2":62},{"h":13.68,"s1":0.46,"s2":0.96,"d1":36,"d2":4},{"h":13.75,"s1":1.22,"s2":0.58,"d1":24,"d2":48},{"h":13.82,"s1":0.68,"s2":1.06,"d1":6,"d2":32},{"h":13.89,"s1":0.94,"s2":0.44,"d1":52,"d2":18},{"h":13.96,"s1":1.16,"s2":0.62,"d1":22,"d2":88},
{"h":14.03,"s1":0.52,"s2":0.98,"d1":38,"d2":8},{"h":14.10,"s1":0.86,"s2":1.32,"d1":12,"d2":46},{"h":14.17,"s1":1.04,"s2":0.56,"d1":58,"d2":26},{"h":14.24,"s1":0.68,"s2":1.22,"d1":4,"d2":34},{"h":14.31,"s1":1.12,"s2":0.48,"d1":42,"d2":16},{"h":14.38,"s1":0.58,"s2":0.94,"d1":22,"d2":72},{"h":14.45,"s1":1.32,"s2":0.64,"d1":8,"d2":38},{"h":14.52,"s1":0.84,"s2":1.18,"d1":48,"d2":14},{"h":14.59,"s1":0.46,"s2":0.92,"d1":28,"d2":56},{"h":14.66,"s1":1.16,"s2":0.62,"d1":12,"d2":34},{"h":14.73,"s1":0.72,"s2":1.36,"d1":44,"d2":6},{"h":14.80,"s1":1.02,"s2":0.52,"d1":18,"d2":62},{"h":14.87,"s1":0.58,"s2":1.18,"d1":36,"d2":24},{"h":14.94,"s1":0.86,"s2":0.42,"d1":6,"d2":46},{"h":15.01,"s1":1.26,"s2":0.68,"d1":28,"d2":12},{"h":15.08,"s1":0.52,"s2":0.96,"d1":54,"d2":32},{"h":15.15,"s1":0.92,"s2":1.32,"d1":16,"d2":40},{"h":15.22,"s1":0.64,"s2":1.12,"d1":38,"d2":8},{"h":15.29,"s1":1.06,"s2":0.46,"d1":24,"d2":58},{"h":15.36,"s1":0.78,"s2":1.24,"d1":46,"d2":14},{"h":15.43,"s1":1.34,"s2":0.62,"d1":8,"d2":32},{"h":15.50,"s1":0.56,"s2":0.94,"d1":62,"d2":22},{"h":15.57,"s1":1.12,"s2":0.72,"d1":18,"d2":44},{"h":15.64,"s1":0.84,"s2":1.38,"d1":34,"d2":6},{"h":15.71,"s1":0.48,"s2":1.06,"d1":12,"d2":52},{"h":15.78,"s1":1.16,"s2":0.66,"d1":48,"d2":26},{"h":15.85,"s1":0.92,"s2":1.42,"d1":22,"d2":38},{"h":15.92,"s1":0.56,"s2":0.88,"d1":6,"d2":64},{"h":15.99,"s1":1.28,"s2":0.72,"d1":32,"d2":14},
{"h":16.06,"s1":0.78,"s2":1.16,"d1":52,"d2":24},{"h":16.13,"s1":0.46,"s2":0.98,"d1":16,"d2":42},{"h":16.20,"s1":1.08,"s2":0.62,"d1":38,"d2":8},{"h":16.27,"s1":0.84,"s2":1.36,"d1":22,"d2":56},{"h":16.34,"s1":0.54,"s2":1.12,"d1":44,"d2":12},{"h":16.41,"s1":1.22,"s2":0.68,"d1":8,"d2":34},{"h":16.48,"s1":0.96,"s2":1.46,"d1":28,"d2":62},{"h":16.55,"s1":0.62,"s2":1.08,"d1":14,"d2":38},{"h":16.62,"s1":1.32,"s2":0.82,"d1":42,"d2":18}
],
"wdh": [
{"h":8.43,"d":355},{"h":8.92,"d":352},{"h":8.94,"d":295},{"h":9.09,"d":358},{"h":9.1,"d":345},{"h":9.15,"d":245},{"h":9.27,"d":356},{"h":9.48,"d":357},{"h":9.5,"d":350},{"h":9.48,"d":283},{"h":9.52,"d":356},{"h":9.57,"d":354},{"h":10.37,"d":356},{"h":10.96,"d":354},{"h":13.06,"d":358},{"h":13.1,"d":264},{"h":13.1,"d":240},{"h":13.23,"d":356},{"h":13.28,"d":357},{"h":13.31,"d":355},{"h":13.56,"d":354},{"h":13.6,"d":356},{"h":13.65,"d":350},{"h":13.94,"d":302},{"h":14.4,"d":356},{"h":14.45,"d":357},{"h":14.57,"d":352},{"h":14.65,"d":242},{"h":14.74,"d":355},{"h":15.12,"d":289},{"h":15.33,"d":292},{"h":15.4,"d":283},{"h":15.62,"d":358},{"h":15.92,"d":354},{"h":16.08,"d":357},{"h":16.13,"d":330},{"h":16.15,"d":276},{"h":16.21,"d":351},{"h":16.27,"d":319},{"h":16.42,"d":355},{"h":16.5,"d":356},{"h":16.59,"d":352},{"h":16.62,"d":358}
]
},
"vconcat": [
{
 "width": 660, "height": 128,
 "title": {"text": "DLR HATPRO\u00a0 Perdigao_Orange\u00a0 2017-06-19", "fontSize": 24.7, "font": "DejaVu Sans", "fontWeight": "normal", "color": "black", "anchor": "middle", "frame": "group", "offset": 4},
 "data": {"name": "temp"},
 "layer": [
  {"mark": {"type": "line", "color": "#0000ff", "strokeWidth": 2.5},
   "encoding": {
    "x": {"field": "h", "type": "quantitative", "scale": {"domain": [0.04, 16.68], "nice": false, "zero": false}, "axis": {"orient": "bottom", "values": [1,3,5,7,9,11,13,15], "labels": false, "title": null}},
    "y": {"field": "v", "type": "quantitative", "scale": {"domain": [15, 40], "nice": false, "zero": false}, "axis": {"orient": "left", "values": [16,24,32,40], "title": ["temperature", "[°C]"]}}
   }},
  {"mark": {"type": "point", "opacity": 0},
   "encoding": {
    "x": {"field": "h", "type": "quantitative", "axis": {"orient": "top", "values": [1,3,5,7,9,11,13,15], "labels": false, "title": null}},
    "y": {"field": "v", "type": "quantitative", "axis": {"orient": "right", "values": [16,24,32,40], "labels": false, "title": null}}
   }}
 ],
 "resolve": {"axis": {"x": "independent", "y": "independent"}}
},
{
 "width": 660, "height": 128,
 "data": {"name": "rh"},
 "layer": [
  {"mark": {"type": "line", "color": "#0000ff", "strokeWidth": 2.4},
   "encoding": {
    "x": {"field": "h", "type": "quantitative", "scale": {"domain": [0.04, 16.68], "nice": false, "zero": false}, "axis": {"orient": "bottom", "values": [1,3,5,7,9,11,13,15], "labels": false, "title": null}},
    "y": {"field": "v", "type": "quantitative", "scale": {"domain": [10, 90], "nice": false, "zero": false}, "axis": {"orient": "left", "values": [25,50,75], "title": ["relative", "humidity [%]"]}}
   }},
  {"mark": {"type": "point", "opacity": 0},
   "encoding": {
    "x": {"field": "h", "type": "quantitative", "axis": {"orient": "top", "values": [1,3,5,7,9,11,13,15], "labels": false, "title": null}},
    "y": {"field": "v", "type": "quantitative", "axis": {"orient": "right", "values": [25,50,75], "labels": false, "title": null}}
   }}
 ],
 "resolve": {"axis": {"x": "independent", "y": "independent"}}
},
{
 "width": 660, "height": 128,
 "data": {"name": "pres"},
 "layer": [
  {"mark": {"type": "line", "color": "#0000ff", "strokeWidth": 2.4},
   "encoding": {
    "x": {"field": "h", "type": "quantitative", "scale": {"domain": [0.04, 16.68], "nice": false, "zero": false}, "axis": {"orient": "bottom", "values": [1,3,5,7,9,11,13,15], "labels": false, "title": null}},
    "y": {"field": "v", "type": "quantitative", "scale": {"domain": [977.5, 982.0], "nice": false, "zero": false}, "axis": {"orient": "left", "values": [977.5, 979.0, 980.5, 982.0], "format": ".1f", "title": ["pressure", "[hPa]"]}}
   }},
  {"mark": {"type": "point", "opacity": 0},
   "encoding": {
    "x": {"field": "h", "type": "quantitative", "axis": {"orient": "top", "values": [1,3,5,7,9,11,13,15], "labels": false, "title": null}},
    "y": {"field": "v", "type": "quantitative", "axis": {"orient": "right", "values": [977.5, 979.0, 980.5, 982.0], "labels": false, "title": null}}
   }}
 ],
 "resolve": {"axis": {"x": "independent", "y": "independent"}}
},
{
 "width": 660, "height": 128,
 "layer": [
  {"data": {"name": "rainbars"},
   "mark": {"type": "rect", "color": "#c0c0c0"},
   "encoding": {
    "x": {"field": "a", "type": "quantitative", "scale": {"domain": [0.04, 16.68], "nice": false, "zero": false}, "axis": null},
    "x2": {"field": "b"}
   }},
  {"data": {"name": "rain"},
   "mark": {"type": "point", "shape": "square", "filled": true, "size": 7, "color": "#0000ff", "opacity": 1, "strokeWidth": 0},
   "encoding": {
    "x": {"field": "h", "type": "quantitative", "axis": {"orient": "bottom", "values": [1,3,5,7,9,11,13,15], "labels": false, "title": null}},
    "y": {"field": "r", "type": "quantitative", "scale": {"domain": [0, 24], "nice": false, "zero": false}, "axis": {"orient": "left", "values": [0,5,10,15,20], "title": ["rain rate", "[mm/h]"]}}
   }},
  {"data": {"name": "rain"},
   "mark": {"type": "point", "opacity": 0},
   "encoding": {
    "x": {"field": "h", "type": "quantitative", "axis": {"orient": "top", "values": [1,3,5,7,9,11,13,15], "labels": false, "title": null}},
    "y": {"field": "r", "type": "quantitative", "axis": {"orient": "right", "values": [0,5,10,15,20], "labels": false, "title": null}}
   }}
 ],
 "resolve": {"axis": {"x": "independent", "y": "independent"}}
},
{
 "width": 660, "height": 128,
 "layer": [
  {"data": {"name": "wind"},
   "transform": [{"fold": ["s1", "s2", "s3"], "as": ["k", "v"]}],
   "mark": {"type": "point", "shape": "square", "filled": true, "size": 8, "color": "#0000ff", "opacity": 1, "strokeWidth": 0},
   "encoding": {
    "x": {"field": "h", "type": "quantitative", "scale": {"domain": [0.04, 16.68], "nice": false, "zero": false}, "axis": {"orient": "bottom", "values": [1,3,5,7,9,11,13,15], "labels": false, "title": null}},
    "y": {"field": "v", "type": "quantitative", "scale": {"domain": [0, 3.8], "nice": false, "zero": false}, "axis": {"orient": "left", "values": [0, 0.8, 1.6, 2.4, 3.2], "format": ".1f", "title": ["wind", "speed [m/s]"]}}
   }},
  {"data": {"name": "wind2"},
   "transform": [{"fold": ["s1", "s2"], "as": ["k", "v"]}],
   "mark": {"type": "point", "shape": "square", "filled": true, "size": 8, "color": "#0000ff", "opacity": 1, "strokeWidth": 0},
   "encoding": {
    "x": {"field": "h", "type": "quantitative", "axis": null},
    "y": {"field": "v", "type": "quantitative", "axis": null}
   }},
  {"data": {"name": "wind2"},
   "mark": {"type": "point", "opacity": 0},
   "encoding": {
    "x": {"field": "h", "type": "quantitative", "axis": {"orient": "top", "values": [1,3,5,7,9,11,13,15], "labels": false, "title": null}},
    "y": {"field": "s1", "type": "quantitative", "axis": {"orient": "right", "values": [0, 0.8, 1.6, 2.4, 3.2], "labels": false, "title": null}}
   }}
 ],
 "resolve": {"axis": {"x": "independent", "y": "independent"}}
},
{
 "width": 660, "height": 128,
 "layer": [
  {"data": {"name": "wind"},
   "transform": [{"fold": ["d1", "d2", "d3"], "as": ["k", "v"]}],
   "mark": {"type": "point", "shape": "square", "filled": true, "size": 8, "color": "#0000ff", "opacity": 1, "strokeWidth": 0},
   "encoding": {
    "x": {"field": "h", "type": "quantitative", "scale": {"domain": [0.04, 16.68], "nice": false, "zero": false}, "axis": {"orient": "bottom", "values": [1,3,5,7,9,11,13,15], "format": "02d", "title": "OS_170619_level-2_meteo.nc", "titleFontSize": 12, "titleX": 697, "titleY": 42, "titleAlign": "right", "titleBaseline": "alphabetic", "titleAnchor": null}},
    "y": {"field": "v", "type": "quantitative", "scale": {"domain": [0, 360], "nice": false, "zero": false}, "axis": {"orient": "left", "values": [0, 90, 180, 270, 360], "title": ["wind", "direction [°]"]}}
   }},
  {"data": {"name": "wind2"},
   "transform": [{"fold": ["d1", "d2"], "as": ["k", "v"]}],
   "mark": {"type": "point", "shape": "square", "filled": true, "size": 8, "color": "#0000ff", "opacity": 1, "strokeWidth": 0},
   "encoding": {
    "x": {"field": "h", "type": "quantitative", "axis": null},
    "y": {"field": "v", "type": "quantitative", "axis": null}
   }},
  {"data": {"name": "wdh"},
   "mark": {"type": "point", "shape": "square", "filled": true, "size": 8, "color": "#0000ff", "opacity": 1, "strokeWidth": 0},
   "encoding": {
    "x": {"field": "h", "type": "quantitative", "axis": null},
    "y": {"field": "d", "type": "quantitative", "axis": null}
   }},
  {"data": {"name": "wdh"},
   "mark": {"type": "point", "opacity": 0},
   "encoding": {
    "x": {"field": "h", "type": "quantitative", "axis": {"orient": "top", "values": [1,3,5,7,9,11,13,15], "labels": false, "title": null}},
    "y": {"field": "d", "type": "quantitative", "axis": {"orient": "right", "values": [0, 90, 180, 270, 360], "labels": false, "title": null}}
   }}
 ],
 "resolve": {"axis": {"x": "independent", "y": "independent"}}
}
]
}
